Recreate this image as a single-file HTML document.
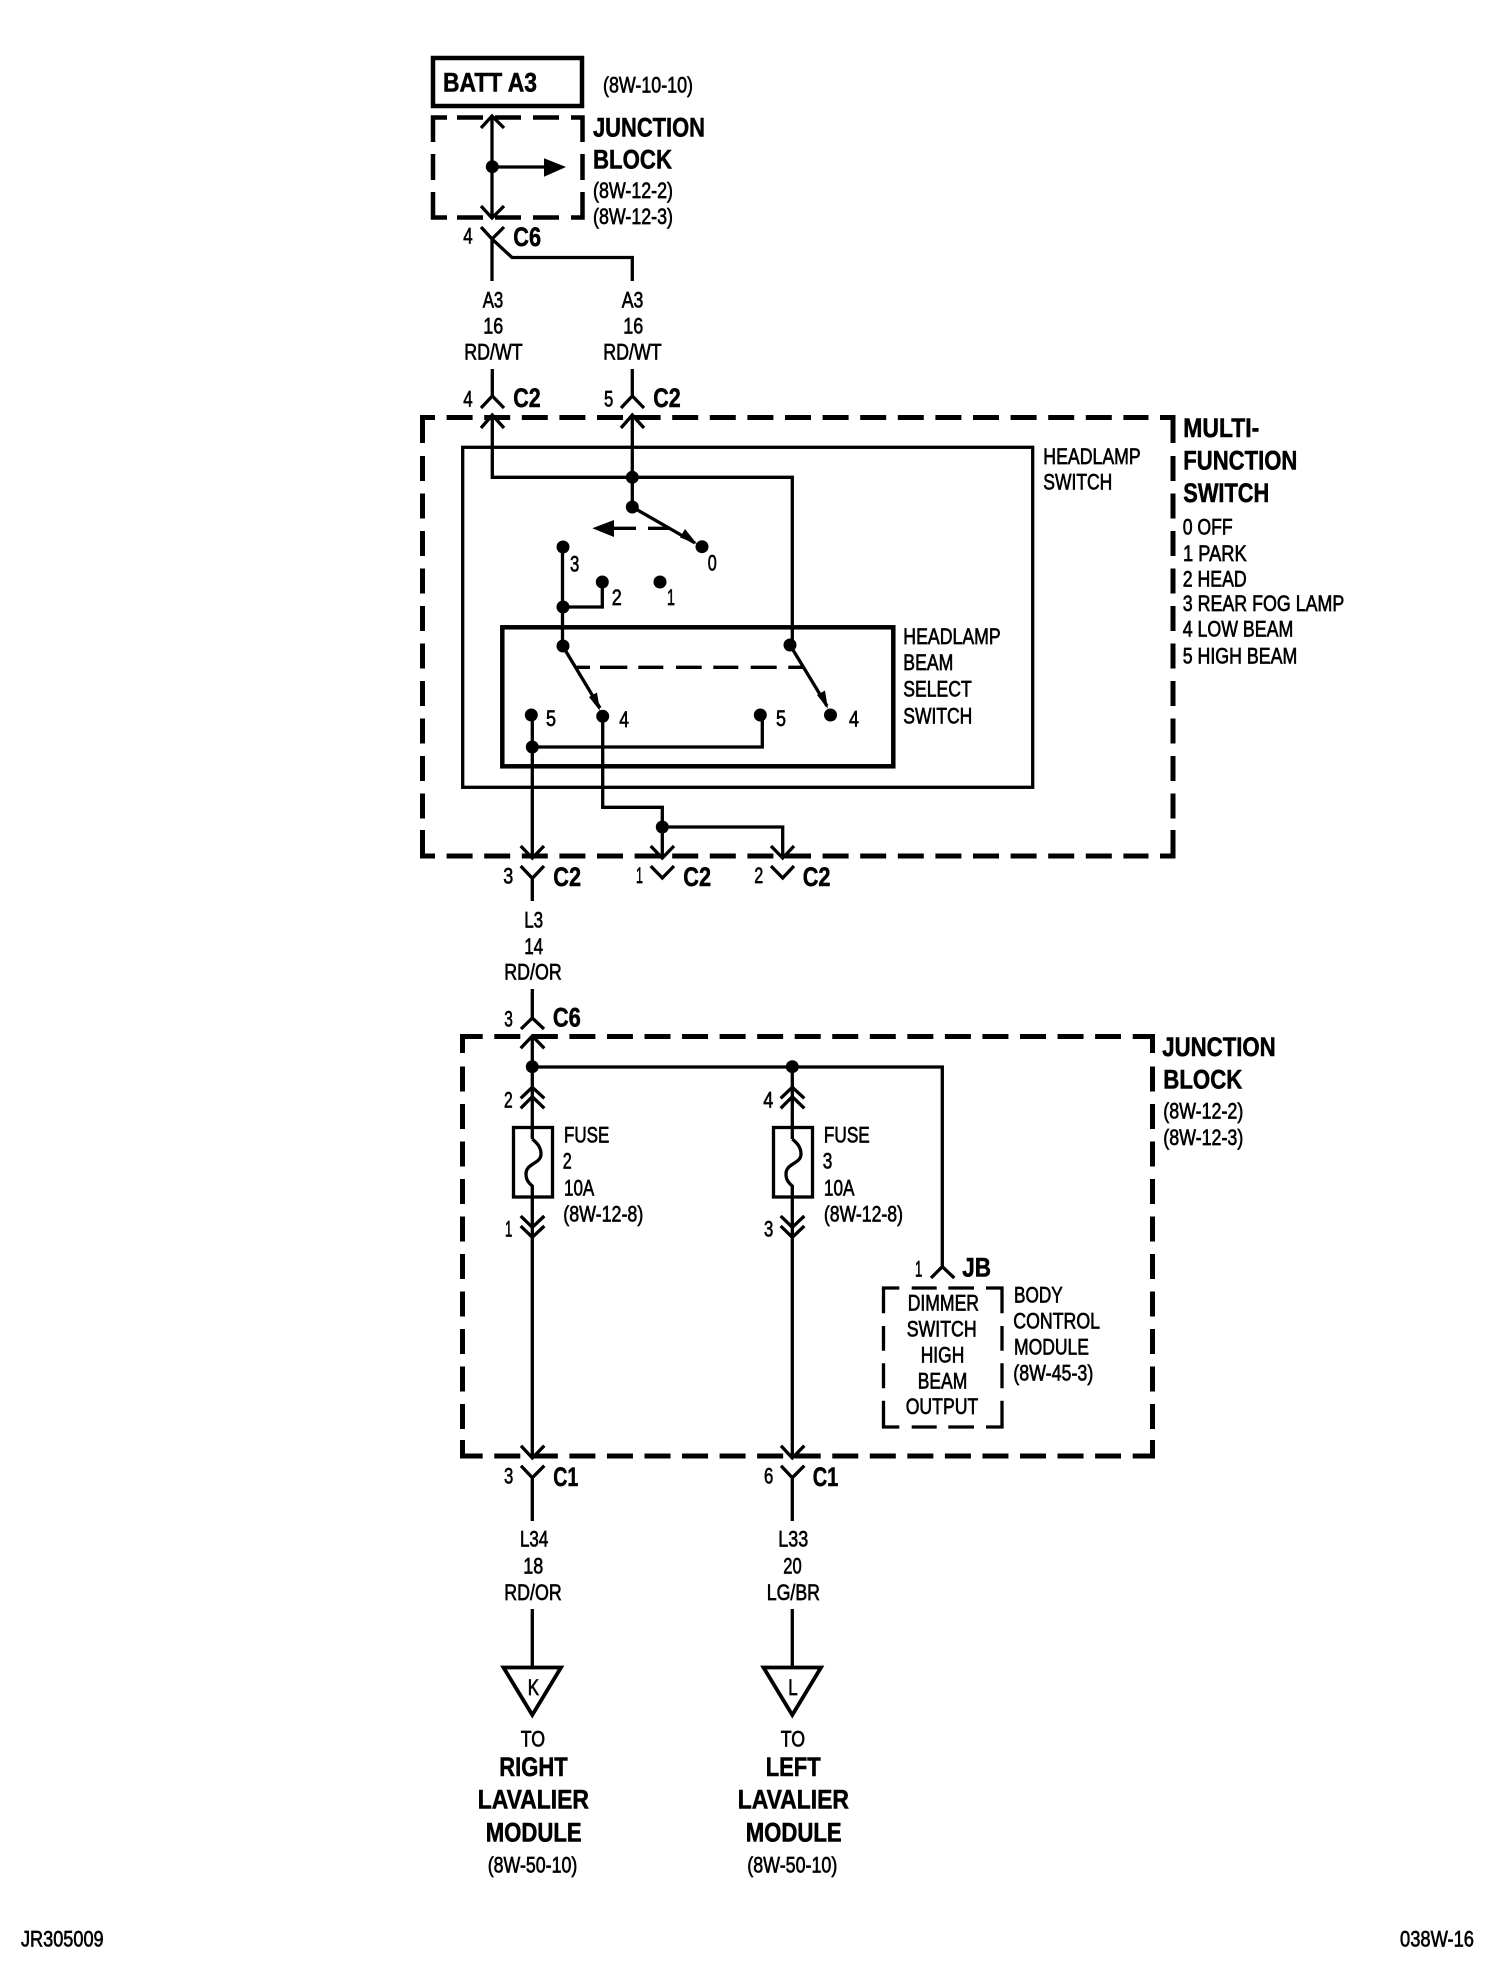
<!DOCTYPE html>
<html>
<head>
<meta charset="utf-8">
<style>
html,body{margin:0;padding:0;background:#fff;width:1504px;height:1978px;overflow:hidden}
svg{display:block}
text{fill:#000;font-family:"Liberation Sans",sans-serif}
.r{font-size:22px;stroke:#000;stroke-width:.65px}
.b{font-size:27px;font-weight:bold;stroke:#000;stroke-width:.55px}
</style>
</head>
<body>
<svg width="1504" height="1978" viewBox="0 0 1504 1978" xmlns="http://www.w3.org/2000/svg">
<rect width="1504" height="1978" fill="#fff"/>

<!-- top section -->
<g fill="none" stroke="#000" stroke-width="3.3">
<rect x="433" y="58" width="149" height="48" stroke-width="4.5"/>
<!-- junction block top -->
<g stroke-width="4.5">
<path d="M447 117.5H433V142"/>
<path d="M571 117.5H582.5V142"/>
<path d="M457 117.5H483M495 117.5H521"/>
<path d="M433 154V180M582.5 154V180"/>
<path d="M433 192V217.5H447M582.5 192V217.5H571"/>
<path d="M457 217.5H483M495 217.5H521M533 217.5H559"/>
<path d="M533 117.5H559"/>
</g>
<path d="M492 116V218M481 128L492 116L504 128M481 206L492 218L504 206"/>
<path d="M492 167H546"/>
<path d="M481 227L492 239L504 227M492 239V281M492 239L512 257.5H632.3V281"/>
<path d="M492.3 369V396M481 408L492.3 396L504 408"/>
<path d="M632.3 369V396M621 408L632.3 396L644 408"/>

<!-- multifunction box -->
<g stroke-width="5">
<path d="M435 417.5H422.5V443M1160 417.5H1173V443"/>
<path d="M446.6 417.5H1148.5" stroke-dasharray="26 11.6"/>
<path d="M422.5 456V819" stroke-dasharray="25 12.5"/>
<path d="M1173 456V819" stroke-dasharray="25 12.5"/>
<path d="M422.5 830V856H435M1173 830V856H1160"/>
<path d="M446.6 856H1148.5" stroke-dasharray="26 11.6"/>
</g>
<rect x="462.7" y="447.3" width="570" height="340"/>
<rect x="502.3" y="627.3" width="391" height="139" stroke-width="4.5"/>

<!-- wires in switch -->
<path d="M492.3 415V477.3H792.3V645"/>
<path d="M632.3 415V507"/>
<path d="M481 428L492.3 415L504 428M621 428L632.3 415L644 428"/>
<path d="M632.3 507L695 543"/>
<path d="M614 528.3H636M648 528.3H670"/>
<path d="M562.5 547V646M562.5 607H602.3V582"/>
<path d="M562.7 646L600 708"/>
<path d="M790 645L827 706"/>
<path d="M576.7 667.3H590M600 667.3H627.3M638.3 667.3H663.3M676 667.3H701.7M713.3 667.3H738.3M750.7 667.3H776.7M788.3 667.3H803.3"/>
<path d="M532.3 715V858M532.3 747H762.3V715"/>
<path d="M602.7 716V807.3H662.3V858M662.3 827H782.7V858"/>
<path d="M520.7 846L532.3 858L544 846M650.7 846L662.3 858L674 846M771 846L782.7 858L794 846"/>
<path d="M520.7 866L532.3 878.3L544 866M532.3 878V901"/>
<path d="M650.7 866L662.3 878L674 866M771 866L782.7 878L794 866"/>

<!-- mid connector -->
<path d="M532.3 989V1019M521 1029L532.3 1018L544 1029"/>

<!-- junction block lower -->
<g stroke-width="5">
<path d="M482.7 1036.5H462.5V1053M1132.7 1036.5H1152.5V1053"/>
<path d="M494.3 1036.5H1121" stroke-dasharray="26 11.55"/>
<path d="M462.5 1066.5V1429" stroke-dasharray="25 12.5"/>
<path d="M1152.5 1066.5V1429" stroke-dasharray="25 12.5"/>
<path d="M462.5 1440V1456H482.7M1152.5 1440V1456H1132.7"/>
<path d="M494.3 1456H1121" stroke-dasharray="26 11.55"/>
</g>
<path d="M532.3 1036V1139"/>
<path d="M520.7 1048.3L532.3 1036L544.3 1048.3"/>
<path d="M532.3 1067H942.3V1267"/>
<path d="M792.3 1067V1139"/>
<path d="M931 1278L942.3 1266.7L954.3 1278"/>

<path d="M520.7 1098.3L532.3 1087.3L544.3 1098.3M520.7 1108.3L532.3 1096.7L544.3 1108.3"/>
<path d="M780.7 1098.3L792.3 1087.3L804.3 1098.3M780.7 1108.3L792.3 1096.7L804.3 1108.3"/>

<rect x="513.5" y="1127.5" width="39" height="69.5"/>
<rect x="773.5" y="1127.5" width="39" height="69.5"/>
<path d="M532.3 1139C537 1143 541 1147 541 1154C541 1164 526 1163 526 1174C526 1181 530 1184 532.3 1186V1458"/>
<path d="M792.3 1139C797 1143 801 1147 801 1154C801 1164 786 1163 786 1174C786 1181 790 1184 792.3 1186V1458"/>
<path d="M520.7 1216L532.3 1227.3L544.3 1216M520.7 1226L532.3 1237.3L544.3 1226"/>
<path d="M780.7 1216L792.3 1227.3L804.3 1216M780.7 1226L792.3 1237.3L804.3 1226"/>

<path d="M521 1445.7L532.3 1458L544.3 1445.7M781 1445.7L792.3 1458L804.3 1445.7"/>
<path d="M521 1465.7L532.3 1477.7L544.3 1465.7M532.3 1477V1521"/>
<path d="M781 1465.7L792.3 1477.7L804.3 1465.7M792.3 1477V1521"/>

<!-- dimmer box -->
<path d="M899.3 1288H883.5V1313.3M986 1288H1002V1313.3M911.7 1288H936.7M948.3 1288H974"/>
<path d="M883.5 1326V1350.7M883.5 1363.3V1388.3M1002 1326V1350.7M1002 1363.3V1388.3"/>
<path d="M883.5 1400.7V1427H899.3M1002 1400.7V1427H986M911.7 1427H936.7M948.3 1427H974"/>

<!-- lower stems and triangles -->
<path d="M532.3 1609V1668M792.3 1609V1668"/>
<path d="M503.5 1667.5H561L532.3 1715Z" stroke-width="3.8"/>
<path d="M763.5 1667.5H821L792.3 1715Z" stroke-width="3.8"/>
</g>

<!-- dots and solid arrows -->
<g fill="#000" stroke="none">
<circle cx="492.3" cy="166.7" r="6.5"/>
<polygon points="544,158.3 566,167 544,176.7"/>
<circle cx="632.3" cy="477.3" r="6.5"/>
<circle cx="632.3" cy="507" r="6.5"/>
<circle cx="702" cy="546.7" r="6.5"/>
<polygon points="592.3,528.3 614,520 614,537"/>
<polygon points="697,544 680,537.5 685,529"/>
<circle cx="563" cy="547" r="6.5"/>
<circle cx="563" cy="607" r="6.5"/>
<circle cx="563" cy="646" r="6.5"/>
<circle cx="602.3" cy="582" r="6.5"/>
<circle cx="660" cy="582" r="6.5"/>
<circle cx="790" cy="645" r="6.5"/>
<circle cx="602.7" cy="716.3" r="6.5"/>
<circle cx="531.3" cy="715" r="6.5"/>
<circle cx="760.3" cy="715" r="6.5"/>
<circle cx="830.5" cy="715" r="6.5"/>
<circle cx="532.3" cy="747" r="6.5"/>
<polygon points="600,711 589,697 597,692.5"/>
<polygon points="828,709 817,695 825,690.5"/>
<circle cx="662.3" cy="827" r="6.5"/>
<circle cx="532.3" cy="1066.7" r="6.5"/>
<circle cx="792.3" cy="1066.7" r="6.5"/>
</g>

<!-- bold labels -->
<g transform="translate(0,-.7)">
<text class="b" x="443" y="92" textLength="94" lengthAdjust="spacingAndGlyphs">BATT A3</text>
<text class="b" x="593" y="137" textLength="112" lengthAdjust="spacingAndGlyphs">JUNCTION</text>
<text class="b" x="593" y="169" textLength="79" lengthAdjust="spacingAndGlyphs">BLOCK</text>
<text class="b" x="513.3" y="246.7" textLength="27.7" lengthAdjust="spacingAndGlyphs">C6</text>
<text class="b" x="513.3" y="407.7" textLength="27.4" lengthAdjust="spacingAndGlyphs">C2</text>
<text class="b" x="653.3" y="407.7" textLength="27.4" lengthAdjust="spacingAndGlyphs">C2</text>
<text class="b" x="1183.3" y="437.7" textLength="76" lengthAdjust="spacingAndGlyphs">MULTI-</text>
<text class="b" x="1183.3" y="470" textLength="114" lengthAdjust="spacingAndGlyphs">FUNCTION</text>
<text class="b" x="1183.3" y="502.7" textLength="86" lengthAdjust="spacingAndGlyphs">SWITCH</text>
<text class="b" x="553.3" y="886.7" textLength="27.7" lengthAdjust="spacingAndGlyphs">C2</text>
<text class="b" x="683.3" y="886.7" textLength="27.7" lengthAdjust="spacingAndGlyphs">C2</text>
<text class="b" x="802.7" y="886.7" textLength="27.7" lengthAdjust="spacingAndGlyphs">C2</text>
<text class="b" x="552.9" y="1027.3" textLength="27.9" lengthAdjust="spacingAndGlyphs">C6</text>
<text class="b" x="1162.3" y="1056.7" textLength="113.4" lengthAdjust="spacingAndGlyphs">JUNCTION</text>
<text class="b" x="1163.3" y="1089.3" textLength="79" lengthAdjust="spacingAndGlyphs">BLOCK</text>
<text class="b" x="962.3" y="1277.3" textLength="28.7" lengthAdjust="spacingAndGlyphs">JB</text>
<text class="b" x="553.3" y="1486.7" textLength="25" lengthAdjust="spacingAndGlyphs">C1</text>
<text class="b" x="812.7" y="1486.7" textLength="25.6" lengthAdjust="spacingAndGlyphs">C1</text>
<text class="b" x="499.3" y="1776.7" textLength="68.4" lengthAdjust="spacingAndGlyphs">RIGHT</text>
<text class="b" x="477.7" y="1809.3" textLength="111.3" lengthAdjust="spacingAndGlyphs">LAVALIER</text>
<text class="b" x="485.7" y="1842.3" textLength="96" lengthAdjust="spacingAndGlyphs">MODULE</text>
<text class="b" x="765.7" y="1776.7" textLength="55" lengthAdjust="spacingAndGlyphs">LEFT</text>
<text class="b" x="737.7" y="1809.3" textLength="111.3" lengthAdjust="spacingAndGlyphs">LAVALIER</text>
<text class="b" x="745.7" y="1842.3" textLength="96" lengthAdjust="spacingAndGlyphs">MODULE</text>
</g>

<!-- regular labels -->
<g>
<text class="r" x="603" y="92.5" textLength="90" lengthAdjust="spacingAndGlyphs">(8W-10-10)</text>
<text class="r" x="593" y="198" textLength="80" lengthAdjust="spacingAndGlyphs">(8W-12-2)</text>
<text class="r" x="593" y="224" textLength="80" lengthAdjust="spacingAndGlyphs">(8W-12-3)</text>
<text class="r" x="463.3" y="243.3" textLength="9.4" lengthAdjust="spacingAndGlyphs">4</text>
<text class="r" x="482.7" y="307.3" textLength="20.6" lengthAdjust="spacingAndGlyphs">A3</text>
<text class="r" x="483.3" y="333.3" textLength="20" lengthAdjust="spacingAndGlyphs">16</text>
<text class="r" x="464.3" y="359.3" textLength="58.4" lengthAdjust="spacingAndGlyphs">RD/WT</text>
<text class="r" x="621.7" y="307.3" textLength="21.6" lengthAdjust="spacingAndGlyphs">A3</text>
<text class="r" x="623.3" y="333.3" textLength="20" lengthAdjust="spacingAndGlyphs">16</text>
<text class="r" x="603.3" y="359.3" textLength="58.4" lengthAdjust="spacingAndGlyphs">RD/WT</text>
<text class="r" x="463.3" y="406.7" textLength="9.4" lengthAdjust="spacingAndGlyphs">4</text>
<text class="r" x="604" y="406.7" textLength="9.3" lengthAdjust="spacingAndGlyphs">5</text>
<text class="r" x="1043.3" y="464" textLength="97.4" lengthAdjust="spacingAndGlyphs">HEADLAMP</text>
<text class="r" x="1043.3" y="489.3" textLength="69" lengthAdjust="spacingAndGlyphs">SWITCH</text>
<text class="r" x="1182.7" y="534.3" textLength="50" lengthAdjust="spacingAndGlyphs">0 OFF</text>
<text class="r" x="1183" y="561" textLength="63.7" lengthAdjust="spacingAndGlyphs">1 PARK</text>
<text class="r" x="1182.7" y="586.7" textLength="64" lengthAdjust="spacingAndGlyphs">2 HEAD</text>
<text class="r" x="1182.7" y="611" textLength="161.6" lengthAdjust="spacingAndGlyphs">3 REAR FOG LAMP</text>
<text class="r" x="1182.7" y="636.7" textLength="110.6" lengthAdjust="spacingAndGlyphs">4 LOW BEAM</text>
<text class="r" x="1182.7" y="663.3" textLength="114.6" lengthAdjust="spacingAndGlyphs">5 HIGH BEAM</text>
<text class="r" x="570" y="571.7" textLength="9.3" lengthAdjust="spacingAndGlyphs">3</text>
<text class="r" x="707.7" y="570.7" textLength="9" lengthAdjust="spacingAndGlyphs">0</text>
<text class="r" x="611.7" y="605" textLength="10" lengthAdjust="spacingAndGlyphs">2</text>
<text class="r" x="667" y="605" textLength="8" lengthAdjust="spacingAndGlyphs">1</text>
<text class="r" x="546" y="726" textLength="10" lengthAdjust="spacingAndGlyphs">5</text>
<text class="r" x="619.3" y="727" textLength="9.7" lengthAdjust="spacingAndGlyphs">4</text>
<text class="r" x="776" y="726" textLength="10" lengthAdjust="spacingAndGlyphs">5</text>
<text class="r" x="849" y="726.7" textLength="10" lengthAdjust="spacingAndGlyphs">4</text>
<text class="r" x="903.3" y="644" textLength="97.4" lengthAdjust="spacingAndGlyphs">HEADLAMP</text>
<text class="r" x="903.3" y="670" textLength="50" lengthAdjust="spacingAndGlyphs">BEAM</text>
<text class="r" x="903.3" y="696.7" textLength="68.4" lengthAdjust="spacingAndGlyphs">SELECT</text>
<text class="r" x="903.3" y="723.3" textLength="69" lengthAdjust="spacingAndGlyphs">SWITCH</text>
<text class="r" x="503.3" y="883.3" textLength="10" lengthAdjust="spacingAndGlyphs">3</text>
<text class="r" x="636" y="883" textLength="7" lengthAdjust="spacingAndGlyphs">1</text>
<text class="r" x="754.3" y="883" textLength="9" lengthAdjust="spacingAndGlyphs">2</text>
<text class="r" x="524.2" y="927.3" textLength="19" lengthAdjust="spacingAndGlyphs">L3</text>
<text class="r" x="524.2" y="954" textLength="19" lengthAdjust="spacingAndGlyphs">14</text>
<text class="r" x="504.3" y="979.3" textLength="57.4" lengthAdjust="spacingAndGlyphs">RD/OR</text>
<text class="r" x="504.3" y="1026.7" textLength="8.6" lengthAdjust="spacingAndGlyphs">3</text>
<text class="r" x="1163.3" y="1118.3" textLength="80" lengthAdjust="spacingAndGlyphs">(8W-12-2)</text>
<text class="r" x="1163.3" y="1145" textLength="80" lengthAdjust="spacingAndGlyphs">(8W-12-3)</text>
<text class="r" x="504" y="1107.3" textLength="8.7" lengthAdjust="spacingAndGlyphs">2</text>
<text class="r" x="505" y="1236.7" textLength="7.3" lengthAdjust="spacingAndGlyphs">1</text>
<text class="r" x="763.3" y="1107.3" textLength="10" lengthAdjust="spacingAndGlyphs">4</text>
<text class="r" x="764" y="1236.7" textLength="9.3" lengthAdjust="spacingAndGlyphs">3</text>
<text class="r" x="564" y="1142.7" textLength="45.3" lengthAdjust="spacingAndGlyphs">FUSE</text>
<text class="r" x="562.7" y="1168.3" textLength="9" lengthAdjust="spacingAndGlyphs">2</text>
<text class="r" x="564" y="1195.7" textLength="30.3" lengthAdjust="spacingAndGlyphs">10A</text>
<text class="r" x="563.3" y="1221.7" textLength="80" lengthAdjust="spacingAndGlyphs">(8W-12-8)</text>
<text class="r" x="823.9" y="1142.7" textLength="45.9" lengthAdjust="spacingAndGlyphs">FUSE</text>
<text class="r" x="822.7" y="1168.3" textLength="9.6" lengthAdjust="spacingAndGlyphs">3</text>
<text class="r" x="823.9" y="1195.7" textLength="30.6" lengthAdjust="spacingAndGlyphs">10A</text>
<text class="r" x="823.9" y="1221.7" textLength="79.1" lengthAdjust="spacingAndGlyphs">(8W-12-8)</text>
<text class="r" x="915" y="1276.7" textLength="7.3" lengthAdjust="spacingAndGlyphs">1</text>
<text class="r" x="907.7" y="1310.7" textLength="71.3" lengthAdjust="spacingAndGlyphs">DIMMER</text>
<text class="r" x="906.7" y="1336.7" textLength="70" lengthAdjust="spacingAndGlyphs">SWITCH</text>
<text class="r" x="920.7" y="1362.7" textLength="43.6" lengthAdjust="spacingAndGlyphs">HIGH</text>
<text class="r" x="917.7" y="1388.3" textLength="49.6" lengthAdjust="spacingAndGlyphs">BEAM</text>
<text class="r" x="905.7" y="1414" textLength="72.6" lengthAdjust="spacingAndGlyphs">OUTPUT</text>
<text class="r" x="1014" y="1302.7" textLength="48.7" lengthAdjust="spacingAndGlyphs">BODY</text>
<text class="r" x="1013.3" y="1328.7" textLength="86.7" lengthAdjust="spacingAndGlyphs">CONTROL</text>
<text class="r" x="1014" y="1354.7" textLength="75" lengthAdjust="spacingAndGlyphs">MODULE</text>
<text class="r" x="1013.3" y="1380.7" textLength="80" lengthAdjust="spacingAndGlyphs">(8W-45-3)</text>
<text class="r" x="504" y="1483.3" textLength="9.3" lengthAdjust="spacingAndGlyphs">3</text>
<text class="r" x="764" y="1483.3" textLength="9.3" lengthAdjust="spacingAndGlyphs">6</text>
<text class="r" x="520" y="1546.7" textLength="28.3" lengthAdjust="spacingAndGlyphs">L34</text>
<text class="r" x="523.3" y="1573.3" textLength="20" lengthAdjust="spacingAndGlyphs">18</text>
<text class="r" x="504.3" y="1600" textLength="57.4" lengthAdjust="spacingAndGlyphs">RD/OR</text>
<text class="r" x="778.3" y="1546.7" textLength="30" lengthAdjust="spacingAndGlyphs">L33</text>
<text class="r" x="783.3" y="1573.3" textLength="18.4" lengthAdjust="spacingAndGlyphs">20</text>
<text class="r" x="766.7" y="1600" textLength="53.3" lengthAdjust="spacingAndGlyphs">LG/BR</text>
<text class="r" x="527.7" y="1695" textLength="11.3" lengthAdjust="spacingAndGlyphs">K</text>
<text class="r" x="788.3" y="1695" textLength="9.4" lengthAdjust="spacingAndGlyphs">L</text>
<text class="r" x="520.7" y="1746.7" textLength="24.3" lengthAdjust="spacingAndGlyphs">TO</text>
<text class="r" x="780.7" y="1746.7" textLength="24.3" lengthAdjust="spacingAndGlyphs">TO</text>
<text class="r" x="487.7" y="1872.3" textLength="89.6" lengthAdjust="spacingAndGlyphs">(8W-50-10)</text>
<text class="r" x="747.3" y="1872.3" textLength="90" lengthAdjust="spacingAndGlyphs">(8W-50-10)</text>
<text class="r" x="21" y="1946.7" textLength="82.6" lengthAdjust="spacingAndGlyphs">JR305009</text>
<text class="r" x="1400" y="1946.7" textLength="74" lengthAdjust="spacingAndGlyphs">038W-16</text>
</g>
</svg>
</body>
</html>
